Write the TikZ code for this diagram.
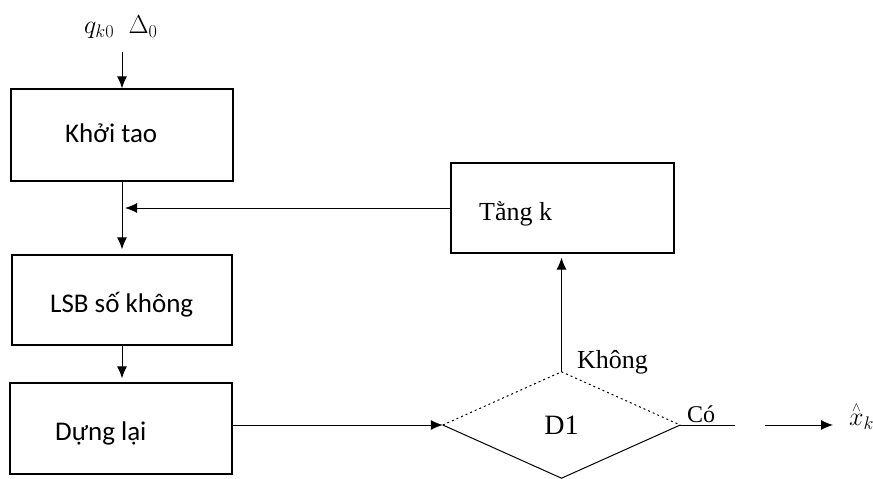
\RequirePackage{fix-cm}
\documentclass[tikz,border=0pt]{standalone}
\usepackage{fontspec}
\newfontfamily\boxfont{Carlito}
\newfontfamily\serfont{Liberation Serif}
\usetikzlibrary{shapes.geometric,arrows.meta,calc}

\begin{document}
\begin{tikzpicture}[x=1pt,y=-1pt,
  blk/.style={draw,line width=1.3pt,minimum width=222pt,minimum height=92pt,inner sep=0pt},
  boxtxt/.style={font=\boxfont\fontsize{27}{32}\selectfont,inner sep=0pt,anchor=base west},
  sertxt/.style={font=\serfont\fontsize{26}{30}\selectfont,inner sep=0pt,anchor=base west},
  mathtxt/.style={font=\fontsize{26}{30}\selectfont,inner sep=0pt,anchor=base west},
  flow/.style={line width=1pt,-{Latex[length=12pt,width=10pt]}},
  plain/.style={line width=1pt},
  faint/.style={line width=1pt,dash pattern=on 2pt off 3pt}
]
\useasboundingbox (0,0) rectangle (873,479);

% process boxes
\node[blk] (init) at (122,135) {};
\node[blk,minimum width=220pt,minimum height=90pt] (lsb) at (122,300) {};
\node[blk,minimum height=91pt] (stop) at (121,428.5) {};
\node[blk,minimum width=223pt,minimum height=90pt] (inc) at (562.5,208) {};

% box captions
\node[boxtxt] (initT) at (65,142) {Khởi tao};
\node[boxtxt] (lsbT) at (50,312) {LSB số không};
\node[boxtxt] (stopT) at (55,440) {Dựng lại};
\node[sertxt] (incT) at (479,220) {Tằng k};

% decision
\node[diamond,minimum width=237pt,minimum height=106pt,inner sep=0pt,
      font=\serfont\fontsize{28}{32}\selectfont] (d) at (561.5,425) {D1};
\draw[plain] (d.west) -- (d.south) -- (d.east);
\draw[faint] (d.west) -- (d.north) -- (d.east);

% inputs and output
\node[mathtxt] (inp) at (84,34) {$q_{k0}\;\;\Delta_{0}$};
\coordinate (inTop) at (122,52);
\node[mathtxt] (out) at (849,426) {${\stackrel{\scriptscriptstyle\wedge}{x}}_{k}$};

% connectors
\draw[flow] (inTop) -- (init.north);
\draw[flow,shorten >=5pt] (init.south) -- (lsb.north);
\coordinate (join) at ([xshift=3pt]init.south |- inc.west);
\draw[flow] (inc.west) -- (join);
\draw[flow,shorten >=4pt] (lsb.south) -- (lsb.south |- stop.north);
\draw[flow] (stop.east |- d.west) -- (d.west);
\draw[flow,shorten >=4pt] (d.north) -- (d.north |- inc.south);
\coordinate (yesEnd) at (735,425);
\draw[plain] (d.east) -- (yesEnd);
\coordinate (outStart) at (765,425);
\draw[flow] (outStart) -- ([xshift=-16pt]out.west |- outStart);

% branch labels
\node[sertxt] (no) at (577,368) {Không};
\node[sertxt,font=\serfont\fontsize{24}{28}\selectfont] (yes) at (687,422) {Có};
\end{tikzpicture}
\end{document}
